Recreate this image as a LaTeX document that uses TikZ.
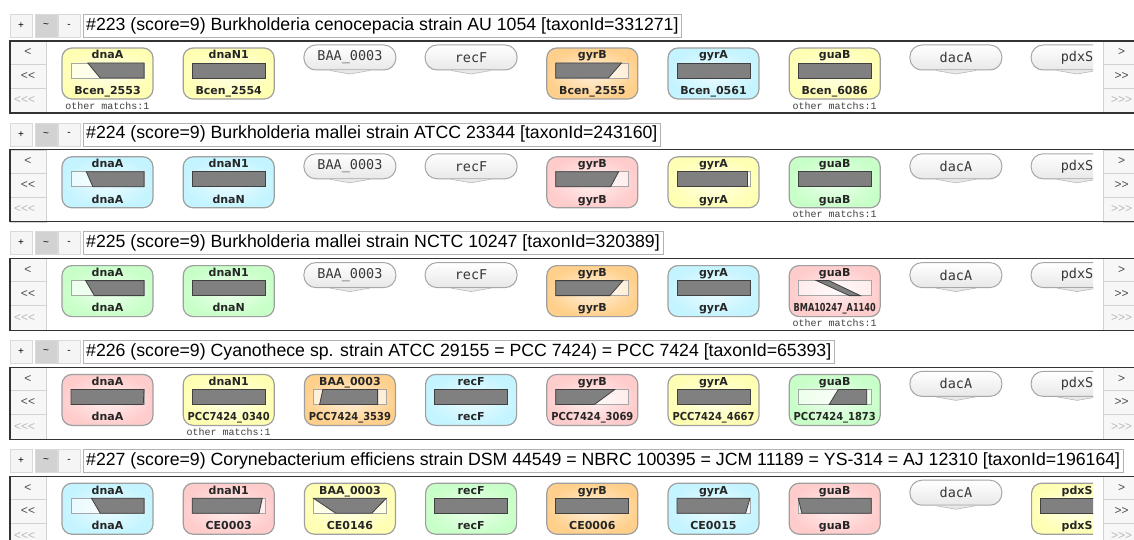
\documentclass[tikz,border=0pt]{standalone}
\usepackage{fontspec}
\setmainfont{Liberation Sans}
\newfontfamily\labfont{DejaVu Sans}
\newfontfamily\pillfont{DejaVu Sans Mono}
\newfontfamily\othfont{Liberation Mono}
\usepackage{graphicx}
\usepackage{xcolor}

\definecolor{hitYellow}{HTML}{FFFFB4}
\definecolor{hitCyan}{HTML}{C4F4FF}
\definecolor{hitOrange}{HTML}{FFD08C}
\definecolor{hitPink}{HTML}{FFCCCC}
\definecolor{hitGreen}{HTML}{C8FFC8}

\tikzset{
	ctrlbtn/.style={draw=gray!30, fill=gray!8, minimum width=22pt, minimum height=23pt, inner sep=0pt, font=\fontsize{10}{11}\selectfont},
	titlebox/.style={draw=gray!60, fill=white, anchor=west, minimum height=23pt, inner xsep=3pt, inner ysep=0pt, font=\fontsize{17.7}{20}\selectfont},
	frameline/.style={draw=black!80, line width=1.2pt},
	navcell/.style={draw=gray!35, fill=black!3, minimum width=36pt, inner sep=0pt, text=black!70, font=\fontsize{12}{13}\selectfont},
	navtxt/.style={inner sep=0pt, text=gray!55, font=\fontsize{12}{13}\selectfont},
	genebox/.style={draw=gray!75, line width=1.2pt, rounded corners=10pt, minimum width=91pt, minimum height=51pt, inner sep=0pt},
	genelab/.style={inner sep=0pt, text height=8.2pt, text depth=2.3pt, text=black!85, font=\labfont\bfseries\fontsize{11}{12}\selectfont},
	othtxt/.style={inner sep=0pt, text=black!75, font=\othfont\fontsize{10}{11}\selectfont},
	nomatch/.style={draw=gray!70, line width=1pt, rounded corners=12pt, minimum width=92pt, minimum height=25pt, inner sep=0pt, top color=white, bottom color=gray!18, text=black!78, font=\pillfont\fontsize{13.5}{14}\selectfont},
	pilltail/.style={draw=gray!55, fill=gray!18, line width=0.6pt},
	barframe/.style={draw=gray!70, fill=white, fill opacity=0.6, line width=0.7pt},
	barhit/.style={draw=black!75, fill=black!50, line width=0.8pt}
}

\newsavebox\labbox
\newcommand{\fitlab}[1]{\sbox\labbox{#1}\ifdim\wd\labbox>82pt\resizebox{82pt}{\ht\labbox}{\usebox\labbox}\else\usebox\labbox\fi}

\newcommand{\resultrow}[3]{%
	\node[ctrlbtn] (#1-plus) at (21,{25.5+#2}) {+};
	\node[ctrlbtn, fill=gray!35] (#1-tilde) at (46,{25.5+#2}) {\textasciitilde};
	\node[ctrlbtn] (#1-minus) at (69,{25.5+#2}) {-};
	\node[titlebox] (#1-title) at (83,{25.5+#2}) {#3};
	%% left / right navigation
	\node[navcell, minimum height=23pt] (#1-back) at (28,{52.5+#2}) {<};
	\node[navcell, minimum height=24pt] (#1-back2) at (28,{76+#2}) {<{}<};
	\node[navcell, minimum height=25pt] (#1-back3) at (28,{100.5+#2}) {};
	\begin{scope}
		\clip (10,{88+#2}) rectangle (46,{113+#2});
		\node[navtxt, anchor=west] (#1-back3t) at (14,{100.5+#2}) {<{}<{}<};
	\end{scope}
	\node[navcell, minimum width=37pt, minimum height=23pt] (#1-fwd) at (1121.5,{52.5+#2}) {>};
	\node[navcell, minimum width=37pt, minimum height=24pt] (#1-fwd2) at (1121.5,{76+#2}) {>{}>};
	\node[navcell, minimum width=37pt, minimum height=25pt, text=gray!55] (#1-fwd3) at (1121.5,{100.5+#2}) {>{}>{}>};
	\draw[frameline] (1140,{41+#2}) -- (10,{41+#2}) -- (10,{113+#2}) -- (1140,{113+#2});
}

\newcommand{\gene}[6]{%
	\node[genebox, inner color=#4!30!white, outer color=#4] (#1) at (#2,#3) {};
	\node[genelab] (#1-top) at ([yshift=17.5pt]#1.center) {#5};
	\node[genelab] (#1-bot) at ([yshift=-17.8pt]#1.center) {\fitlab{#6}};
}

\newcommand{\hit}[5]{%
	\begin{scope}[shift={(#1.center)}]
		\draw[barframe] (-36.5,-10.5) rectangle (36.5,4.5);
		\draw[barhit] ({-36.5+73*#2},-10.5) -- ({-36.5+73*#3},-10.5) -- ({-36.5+73*#5},4.5) -- ({-36.5+73*#4},4.5) -- cycle;
	\end{scope}
}

\newcommand{\other}[1]{\node[othtxt] (#1-oth) at ([yshift=-32pt]#1.center) {other matchs:1};}

\newcommand{\nohit}[4]{%
	\node[nomatch] (#1) at (#2,#3) {#4};
	\draw[pilltail] ([xshift=-20pt]#1.south) -- ([yshift=-3.5pt]#1.south) -- ([xshift=20pt]#1.south);
}

\begin{document}
\begin{tikzpicture}[x=1pt,y=-1pt]
		\useasboundingbox (0,0) rectangle (1134,540);
		\clip (0,0) rectangle (1134,540);
		\fill[white] (0,0) rectangle (1134,540);

		%%  rows  %%%%%%%%
		\resultrow{r1}{0}{\#223 (score=9) Burkholderia cenocepacia strain AU 1054 [taxonId=331271]}
		\resultrow{r2}{108.8}{\#224 (score=9) Burkholderia mallei strain ATCC 23344 [taxonId=243160]}
		\resultrow{r3}{217.6}{\#225 (score=9) Burkholderia mallei strain NCTC 10247 [taxonId=320389]}
		\resultrow{r4}{326.4}{\#226 (score=9) Cyanothece sp. strain ATCC 29155 = PCC 7424) = PCC 7424 [taxonId=65393]}
		\resultrow{r5}{435.2}{\#227 (score=9) Corynebacterium efficiens strain DSM 44549 = NBRC 100395 = JCM 11189 = YS-314 = AJ 12310 [taxonId=196164]}

		\begin{scope}
		\clip (46,0) rectangle (1093,540);
		%%  #223  %%%%%%%%
		\gene{r1dnaA}{107.5}{73.5}{hitYellow}{dnaA}{Bcen\_2553} \hit{r1dnaA}{.23}{1}{.40}{1} \other{r1dnaA}
		\gene{r1dnaN}{228.7}{73.5}{hitYellow}{dnaN1}{Bcen\_2554} \hit{r1dnaN}{0}{1}{0}{1}
		\nohit{r1baa}{349.9}{57.5}{BAA\_0003}
		\nohit{r1recF}{471.1}{57.5}{recF}
		\gene{r1gyrB}{592.3}{73.5}{hitOrange}{gyrB}{Bcen\_2555} \hit{r1gyrB}{0}{.90}{0}{.72}
		\gene{r1gyrA}{713.5}{73.5}{hitCyan}{gyrA}{Bcen\_0561} \hit{r1gyrA}{0}{1}{0}{1}
		\gene{r1guaB}{834.7}{73.5}{hitYellow}{guaB}{Bcen\_6086} \hit{r1guaB}{0}{1}{0}{1} \other{r1guaB}
		\nohit{r1dacA}{955.9}{57.5}{dacA}
		\nohit{r1pdxS}{1077.1}{57.5}{pdxS}

		%%  #224  %%%%%%%%
		\gene{r2dnaA}{107.5}{182.3}{hitCyan}{dnaA}{dnaA} \hit{r2dnaA}{.21}{1}{.30}{1}
		\gene{r2dnaN}{228.7}{182.3}{hitCyan}{dnaN1}{dnaN} \hit{r2dnaN}{0}{1}{0}{1}
		\nohit{r2baa}{349.9}{166.3}{BAA\_0003}
		\nohit{r2recF}{471.1}{166.3}{recF}
		\gene{r2gyrB}{592.3}{182.3}{hitPink}{gyrB}{gyrB} \hit{r2gyrB}{0}{.86}{0}{.75}
		\gene{r2gyrA}{713.5}{182.3}{hitYellow}{gyrA}{gyrA} \hit{r2gyrA}{0}{.97}{0}{.97}
		\gene{r2guaB}{834.7}{182.3}{hitGreen}{guaB}{guaB} \hit{r2guaB}{0}{1}{0}{1} \other{r2guaB}
		\nohit{r2dacA}{955.9}{166.3}{dacA}
		\nohit{r2pdxS}{1077.1}{166.3}{pdxS}

		%%  #225  %%%%%%%%
		\gene{r3dnaA}{107.5}{291.1}{hitGreen}{dnaA}{dnaA} \hit{r3dnaA}{.20}{1}{.32}{1}
		\gene{r3dnaN}{228.7}{291.1}{hitGreen}{dnaN1}{dnaN} \hit{r3dnaN}{0}{1}{0}{1}
		\nohit{r3baa}{349.9}{275.1}{BAA\_0003}
		\nohit{r3recF}{471.1}{275.1}{recF}
		\gene{r3gyrB}{592.3}{291.1}{hitOrange}{gyrB}{gyrB} \hit{r3gyrB}{0}{.92}{0}{.74}
		\gene{r3gyrA}{713.5}{291.1}{hitCyan}{gyrA}{gyrA} \hit{r3gyrA}{0}{1}{0}{1}
		\gene{r3guaB}{834.7}{291.1}{hitPink}{guaB}{BMA10247\_A1140} \hit{r3guaB}{.25}{.42}{.70}{.85} \other{r3guaB}
		\nohit{r3dacA}{955.9}{275.1}{dacA}
		\nohit{r3pdxS}{1077.1}{275.1}{pdxS}

		%%  #226  %%%%%%%%
		\gene{r4dnaA}{107.5}{399.9}{hitPink}{dnaA}{dnaA} \hit{r4dnaA}{0}{1}{0}{.99}
		\gene{r4dnaN}{228.7}{399.9}{hitYellow}{dnaN1}{PCC7424\_0340} \hit{r4dnaN}{0}{1}{0}{1} \other{r4dnaN}
		\gene{r4baa}{349.9}{399.9}{hitOrange}{BAA\_0003}{PCC7424\_3539} \hit{r4baa}{.13}{.88}{.085}{.88}
		\gene{r4recF}{471.1}{399.9}{hitCyan}{recF}{recF} \hit{r4recF}{0}{1}{0}{1}
		\gene{r4gyrB}{592.3}{399.9}{hitPink}{gyrB}{PCC7424\_3069} \hit{r4gyrB}{0}{.81}{0}{.53}
		\gene{r4gyrA}{713.5}{399.9}{hitYellow}{gyrA}{PCC7424\_4667} \hit{r4gyrA}{0}{1}{0}{1}
		\gene{r4guaB}{834.7}{399.9}{hitGreen}{guaB}{PCC7424\_1873} \hit{r4guaB}{.55}{.94}{.425}{.94}
		\nohit{r4dacA}{955.9}{383.9}{dacA}
		\nohit{r4pdxS}{1077.1}{383.9}{pdxS}

		%%  #227  %%%%%%%%
		\gene{r5dnaA}{107.5}{508.7}{hitCyan}{dnaA}{dnaA} \hit{r5dnaA}{.28}{1}{.40}{1}
		\gene{r5dnaN}{228.7}{508.7}{hitPink}{dnaN1}{CE0003} \hit{r5dnaN}{0}{.96}{0}{.915}
		\gene{r5baa}{349.9}{508.7}{hitYellow}{BAA\_0003}{CE0146} \hit{r5baa}{0}{1}{.305}{.80}
		\gene{r5recF}{471.1}{508.7}{hitGreen}{recF}{recF} \hit{r5recF}{0}{1}{0}{1}
		\gene{r5gyrB}{592.3}{508.7}{hitOrange}{gyrB}{CE0006} \hit{r5gyrB}{0}{1}{0}{1}
		\gene{r5gyrA}{713.5}{508.7}{hitCyan}{gyrA}{CE0015} \hit{r5gyrA}{0}{1}{0}{.94}
		\gene{r5guaB}{834.7}{508.7}{hitPink}{guaB}{guaB} \hit{r5guaB}{0}{1}{.05}{1}
		\nohit{r5dacA}{955.9}{492.7}{dacA}
		\gene{r5pdxS}{1077.1}{508.7}{hitYellow}{pdxS}{pdxS} \hit{r5pdxS}{0}{1}{0}{1}
		\end{scope}
		%%%%%%%%%%%%%%%
\end{tikzpicture}
\end{document}
